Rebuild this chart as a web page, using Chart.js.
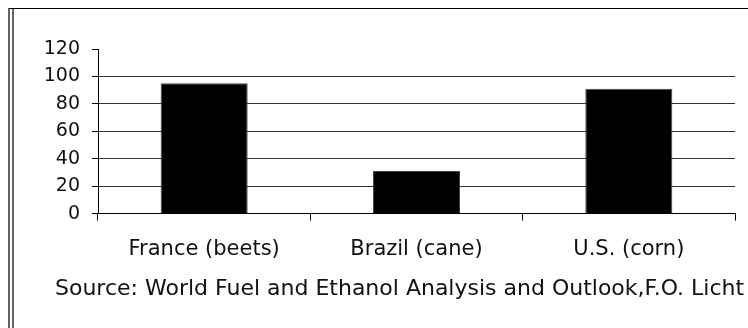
<!DOCTYPE html>
<html>
<head>
<meta charset="utf-8">
<script src="https://cdn.jsdelivr.net/npm/chart.js@4/dist/chart.umd.min.js"></script>
<style>
  html, body { margin: 0; padding: 0; background: #fff; }
  #wrap { width: 748px; height: 328px; position: relative; }
</style>
</head>
<body>
<div id="wrap"><canvas id="c" width="748" height="328"></canvas></div>
<script>
const categories = ["France (beets)", "Brazil (cane)", "U.S. (corn)"];
const values = [95, 31, 91];
const yTicks = [0, 20, 40, 60, 80, 100, 120];
const sourceText = "Source: World Fuel and Ethanol Analysis and Outlook,F.O. Licht";

const FONT = "'DejaVu Sans', 'Liberation Sans', Arial, sans-serif";

const framePlugin = {
  id: 'frame',
  afterLayout(chart) {
    if (chart.titleBlock) {
      chart.titleBlock.left = 55;
      chart.titleBlock.right = 900;
    }
  },
  afterDraw(chart) {
    const ctx = chart.ctx;
    ctx.save();
    ctx.strokeStyle = '#000';
    ctx.lineWidth = 1.2;
    ctx.beginPath();
    ctx.moveTo(8.5, 8.5); ctx.lineTo(748, 8.5);
    ctx.moveTo(9, 8.5); ctx.lineTo(9, 328);
    ctx.moveTo(13, 8.5); ctx.lineTo(13, 328);
    ctx.stroke();
    ctx.restore();
  }
};

new Chart(document.getElementById('c'), {
  type: 'bar',
  data: {
    labels: categories,
    datasets: [{
      data: values,
      backgroundColor: '#000',
      borderColor: '#444',
      borderWidth: 1,
      categoryPercentage: 1,
      barPercentage: 0.41
    }]
  },
  options: {
    responsive: false,
    animation: false,
    devicePixelRatio: 1,
    layout: { padding: { left: 15, right: 13, top: 49, bottom: 26 } },
    plugins: {
      legend: { display: false },
      tooltip: { enabled: false },
      title: {
        display: true,
        position: 'bottom',
        align: 'start',
        text: sourceText,
        color: '#111',
        font: { family: FONT, size: 22, weight: 'normal' },
        padding: { top: 9, bottom: 0 }
      }
    },
    scales: {
      x: {
        offset: true,
        afterFit(s) { s.height = 53; },
        grid: {
          display: true,
          offset: true,
          drawOnChartArea: false,
          drawTicks: true,
          tickLength: 7,
          color: '#000',
          tickColor: '#000'
        },
        border: { display: true, color: '#000', width: 1 },
        ticks: {
          color: '#111',
          padding: 16,
          font: { family: FONT, size: 21 }
        }
      },
      y: {
        min: 0,
        max: 120,
        afterFit(s) { s.width = 83; },
        afterBuildTicks(s) { s.ticks = yTicks.map(v => ({ value: v })); },
        grid: {
          drawTicks: true,
          tickLength: 6,
          color: (c) => (c.tick && c.tick.value === 120) ? 'rgba(0,0,0,0)' : '#333',
          tickColor: '#000',
          lineWidth: 1
        },
        border: { display: true, color: '#000', width: 1 },
        ticks: {
          color: '#111',
          padding: 12,
          font: { family: FONT, size: 19 }
        }
      }
    }
  },
  plugins: [framePlugin]
});
</script>
</body>
</html>
